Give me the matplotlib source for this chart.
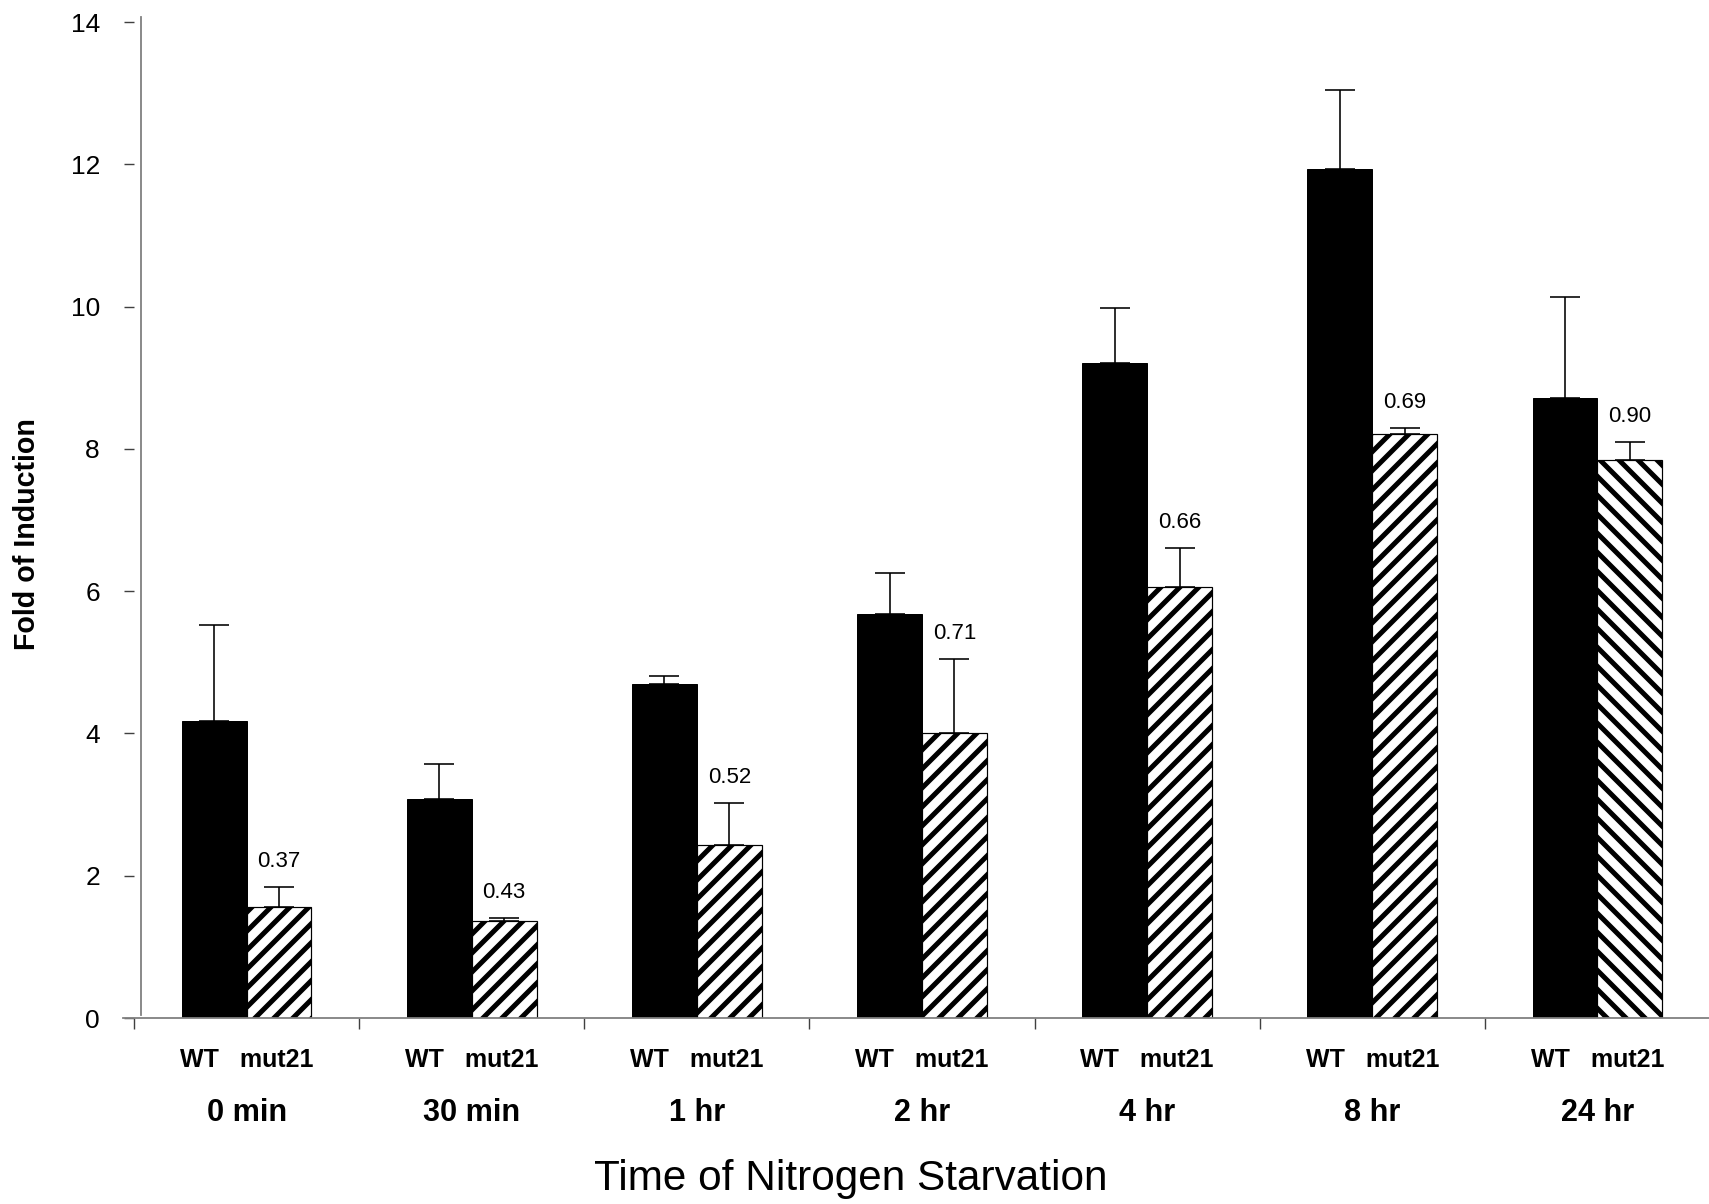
import numpy as np
import matplotlib
matplotlib.use("Agg")
import matplotlib.pyplot as plt
import matplotlib.transforms as mtransforms

DPI = 114


def px(p):
    # chuyen pixel sang point
    return p * 72 / DPI


plt.rcParams["font.family"] = ["Liberation Sans", "DejaVu Sans"]
plt.rcParams["hatch.linewidth"] = px(5)

# Du lieu doc tu hinh
times = ["0 min", "30 min", "1 hr", "2 hr", "4 hr", "8 hr", "24 hr"]
wt = [4.17, 3.08, 4.70, 5.68, 9.21, 11.93, 8.71]
wt_top = [5.53, 3.57, 4.81, 6.26, 9.98, 13.04, 10.14]
mut = [1.56, 1.36, 2.43, 4.00, 6.06, 8.21, 7.84]
mut_top = [1.84, 1.40, 3.02, 5.05, 6.61, 8.29, 8.10]
ratios = ["0.37", "0.43", "0.52", "0.71", "0.66", "0.69", "0.90"]

wt_err = np.array(wt_top) - np.array(wt)
mut_err = np.array(mut_top) - np.array(mut)

fig = plt.figure(figsize=(1709 / DPI, 1204 / DPI), dpi=DPI)
ax = fig.add_axes([134 / 1709, 1 - 1018 / 1204, 1576 / 1709, 996 / 1204])

x = np.arange(len(times))
w = 0.288

ax.bar(x - w / 2, wt, w, color="black", edgecolor="black", linewidth=px(1), zorder=2)
hatches = ["//"] * 6 + ["\\\\"]
for i in range(len(times)):
    ax.bar(x[i] + w / 2, mut[i], w, color="white", edgecolor="black",
           hatch=hatches[i], linewidth=px(1.2), zorder=2)

ax.errorbar(x - w / 2, wt, yerr=[np.zeros(len(wt)), wt_err], fmt="none",
            ecolor="black", elinewidth=px(1.6), capsize=px(15), capthick=px(1.6), zorder=3)
ax.errorbar(x + w / 2, mut, yerr=[np.zeros(len(mut)), mut_err], fmt="none",
            ecolor="black", elinewidth=px(1.6), capsize=px(15), capthick=px(1.6), zorder=3)

for i in range(len(times)):
    ax.annotate(ratios[i], (x[i] + w / 2, mut_top[i]), xytext=(0, px(20)),
                textcoords="offset points", ha="center", va="baseline", fontsize=px(22.3))

ax.set_xlim(-0.5, 6.5)
ax.set_ylim(0, 14)

for s in ["top", "right", "left", "bottom"]:
    ax.spines[s].set_visible(False)

# truc y va truc x kieu Excel
ax.plot([-0.469, -0.469], [0.04, 14.07], color="#808080", lw=px(1.8), clip_on=False)
ax.plot([-0.549, 6.5], [0, 0], color="#808080", lw=px(1.8), clip_on=False)

ax.set_yticks(range(0, 15, 2))
ax.tick_params(axis="y", direction="out", length=px(10), width=px(1.4), color="#404040",
               labelsize=px(26.4), pad=px(24))
ax.set_xticks(np.arange(-0.5, 7, 1))
ax.set_xticklabels([])
ax.tick_params(axis="x", direction="out", length=px(11), width=px(1.4), color="#404040")

trans = mtransforms.blended_transform_factory(ax.transData, ax.transAxes)
for i in range(len(times)):
    ax.text(x[i], -0.0422, "WT   mut21", transform=trans, ha="center", va="center",
            fontsize=px(25), fontweight="bold")
    ax.text(x[i], -0.0954, times[i], transform=trans, ha="center", va="center",
            fontsize=px(30.6), fontweight="bold")

fig.text(851 / 1709, 1 - 1179 / 1204, "Time of Nitrogen Starvation", ha="center",
         va="center", fontsize=px(42.3))
fig.text(27 / 1709, 1 - 534 / 1204, "Fold of Induction", ha="center", va="center",
         rotation=90, fontsize=px(28.6), fontweight="bold")

fig.savefig("out.png", dpi=DPI)
